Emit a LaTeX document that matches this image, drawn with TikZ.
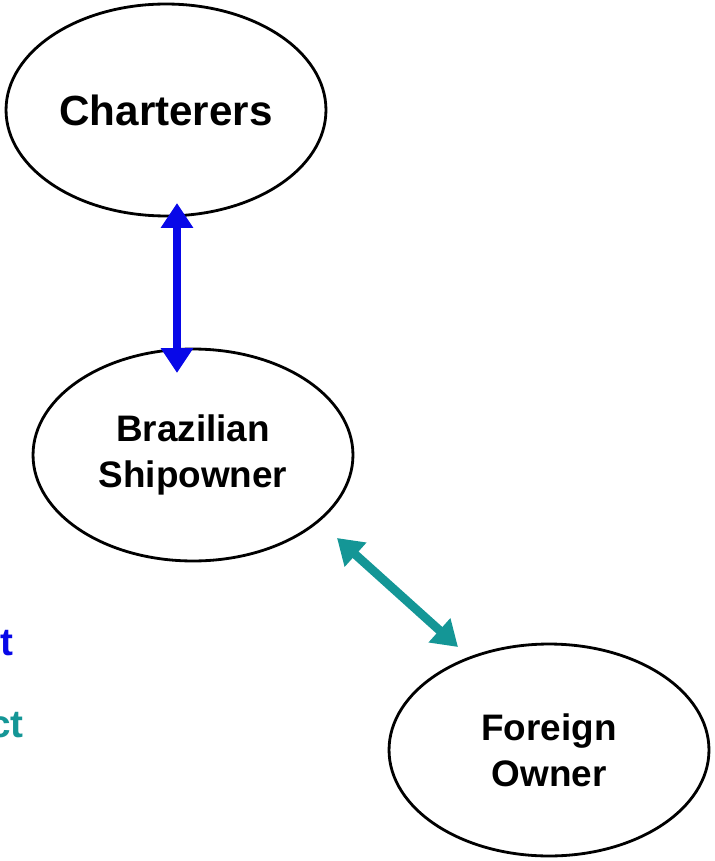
\documentclass[tikz,border=0pt]{standalone}
\usepackage{fontspec}
\setmainfont{Liberation Sans}
\usetikzlibrary{shapes.geometric,arrows.meta}

\definecolor{linkblue}{RGB}{8,8,232}
\definecolor{linkteal}{RGB}{20,150,150}

\tikzset{
	party/.style={draw, ellipse, line width=1.6pt, minimum width=6.4cm, minimum height=4.24cm,
		inner sep=0pt, align=center, font=\bfseries\fontsize{21}{26}\selectfont},
	link/.style={line width=5pt, {Triangle[length=0.5cm,width=0.62cm]}-{Triangle[length=0.5cm,width=0.62cm]}},
	legend/.style={font=\bfseries\fontsize{22}{26}\selectfont, anchor=base east, inner sep=0pt}
}

\begin{document}
\begin{tikzpicture}[x=0.02cm,y=-0.02cm]
			\useasboundingbox (0,0) rectangle (714,861);
			
			\node[party, font=\bfseries\fontsize{24}{28}\selectfont] (charterers) at (166,110) {Charterers};
			\node[party] (brazilian) at (193,455) {Brazilian\\Shipowner};
			\node[party] (foreign) at (549,750) {Foreign\\Owner};
			
			% arrow ends overlap the ellipses a little
			\coordinate (chartEnd) at (177,203);
			\coordinate (brazTop) at (177,373);
			\coordinate (brazCorner) at (337,538);
			\coordinate (foreignCorner) at (458,647);
			
			\draw[link, linkblue] (chartEnd) -- (brazTop);
			\draw[link, linkteal] (brazCorner) -- (foreignCorner);
			
			\node[legend, text=linkblue] (legendA) at (14,655) {t};
			\node[legend, text=linkteal] (legendB) at (24,737) {ct};
		\end{tikzpicture}
\end{document}
